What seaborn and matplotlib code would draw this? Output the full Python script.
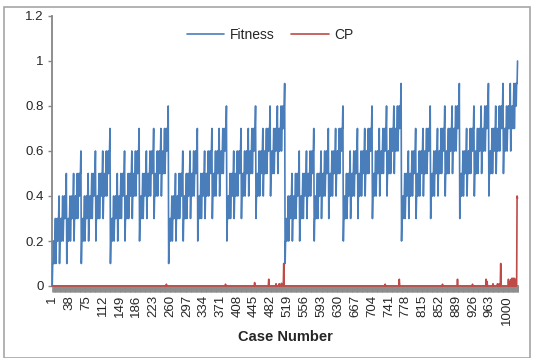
import numpy as np
import pandas as pd
import seaborn as sns
import matplotlib.pyplot as plt
from matplotlib.patches import Rectangle
from matplotlib.ticker import MultipleLocator, FixedLocator

# fitness in tenths, 16 cases per row (hex digit, A = 10), cases 1..1024
fitness_rows = [
    "0112122312232334", "1223233423343445", "1223233423343445", "2334344534454556",
    "1223233423343445", "2334344534454556", "2334344534454556", "3445455645565667",
    "1223233423343445", "2334344534454556", "2334344534454556", "3445455645565667",
    "2334344534454556", "3445455645565667", "3445455645565667", "4556566756676778",
    "1223233423343445", "2334344534454556", "2334344534454556", "3445455645565667",
    "2334344534454556", "3445455645565667", "3445455645565667", "4556566756676778",
    "2334344534454556", "3445455645565667", "3445455645565667", "4556566756676778",
    "3445455645565667", "4556566756676778", "4556566756676778", "5667677867787889",
    "1223233423343445", "2334344534454556", "2334344534454556", "3445455645565667",
    "2334344534454556", "3445455645565667", "3445455645565667", "4556566756676778",
    "2334344534454556", "3445455645565667", "3445455645565667", "4556566756676778",
    "3445455645565667", "4556566756676778", "4556566756676778", "5667677867787889",
    "2334344534454556", "3445455645565667", "3445455645565667", "4556566756676778",
    "3445455645565667", "4556566756676778", "4556566756676778", "5667677867787889",
    "3445455645565667", "4556566756676778", "4556566756676778", "5667677867787889",
    "4556566756676778", "5667677867787889", "5667677867787889", "677878897889899A",
]

# CP is zero except for a few spikes
cp_cases = [252, 382, 446, 477, 493, 500, 505, 510, 733, 764, 859, 892, 925,
            955, 957, 970, 980, 984, 987, 1004, 1006, 1010, 1012, 1014, 1016,
            1018, 1020, 1023, 1024]
cp_values = [0.008, 0.008, 0.015, 0.03, 0.01, 0.01, 0.012, 0.1, 0.008, 0.03,
             0.008, 0.03, 0.008, 0.03, 0.02, 0.01, 0.01, 0.01, 0.1, 0.03,
             0.02, 0.03, 0.035, 0.03, 0.035, 0.03, 0.03, 0.4, 0.39]

tick_labels = list(range(1, 1025, 37))

fitness = [int(ch, 16) / 10 for row in fitness_rows for ch in row]
cases = np.arange(1, len(fitness) + 1)
cp = np.zeros(len(fitness))
cp[np.array(cp_cases) - 1] = cp_values

df = pd.concat([
    pd.DataFrame({"case": cases, "value": fitness, "series": "Fitness"}),
    pd.DataFrame({"case": cases, "value": cp, "series": "CP"}),
])

sns.set_style("white")
plt.rcParams["font.family"] = ["Liberation Sans", "DejaVu Sans"]

fig = plt.figure(figsize=(5.33, 3.58), dpi=100)
ax = fig.add_axes([52 / 533, 1 - 286 / 358, 466 / 533, 270 / 358])

sns.lineplot(data=df, x="case", y="value", hue="series", estimator=None,
             palette={"Fitness": "#4a7ebb", "CP": "#be4b48"},
             linewidth=1.2, ax=ax)
for line in ax.get_lines():
    line.set_clip_on(False)
    line.set_zorder(3)

ax.set_xlim(0.5, 1025)
ax.set_ylim(0, 1.2)
ax.yaxis.set_major_locator(MultipleLocator(0.2))
ax.set_yticklabels([f"{v:g}" for v in ax.get_yticks()])
ax.xaxis.set_major_locator(FixedLocator(tick_labels))
ax.xaxis.set_minor_locator(MultipleLocator(1))
ax.set_xticklabels([str(t) for t in tick_labels], rotation=90)

ax.tick_params(axis="x", which="both", length=4.5, width=0.6, color="#8c8c8c",
               direction="out", bottom=True, labelsize=9.5, pad=2)
ax.tick_params(axis="y", length=3, width=1, color="#868686", left=True,
               labelsize=9.5, pad=3)

for side in ["top", "right"]:
    ax.spines[side].set_visible(False)
ax.spines["left"].set_color("#868686")
ax.spines["left"].set_linewidth(1.3)
ax.spines["bottom"].set_color("#8c8c8c")
ax.spines["bottom"].set_linewidth(1.3)

ax.set_xlabel("Case Number", fontsize=10.5, fontweight="bold", labelpad=4)
ax.set_ylabel("")

sns.move_legend(ax, "center", bbox_to_anchor=(270 / 533, 1 - 35 / 358),
                bbox_transform=fig.transFigure, ncol=2, frameon=False,
                title=None, fontsize=10, handlelength=2.7, columnspacing=1.2,
                handletextpad=0.4)

fig.patches.append(Rectangle((4 / 533, 0), 526 / 533, 1 - 7 / 358,
                             transform=fig.transFigure, fill=False,
                             edgecolor="#a6a6a6", linewidth=1.2))

fig.savefig("out.png", dpi=100)
